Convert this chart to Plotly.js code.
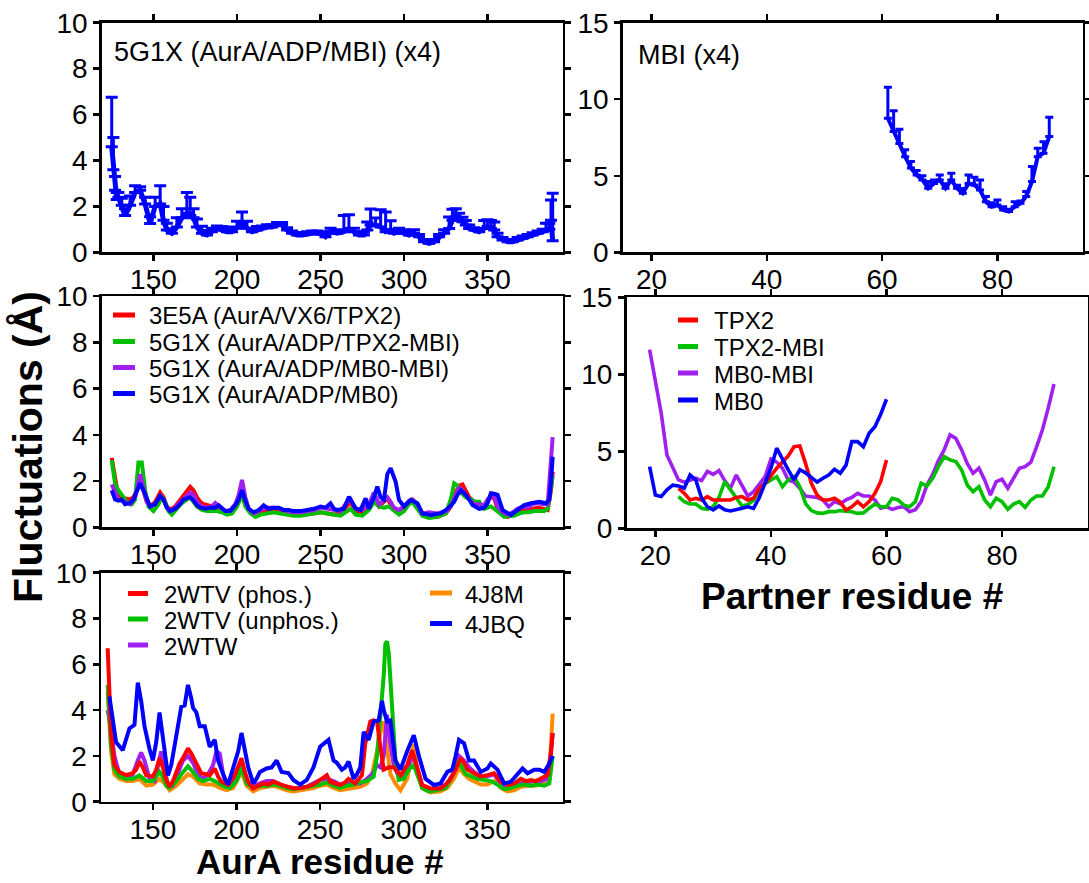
<!DOCTYPE html>
<html>
<head>
<meta charset="utf-8">
<script src="https://cdn.plot.ly/plotly-3.0.1.min.js"></script>
<style>html,body{margin:0;padding:0;background:#fff;}#chart{width:1089px;height:883px;}</style>
</head>
<body>
<div id="chart"></div>
<script>
// ---------- Panel 1: 5G1X (AurA/ADP/MBI) (x4), mean + upper error ----------
const p1Res = [125,126,127,128,129,131,133,136,139,142,145,148,151,154,156,158,161,164,167,170,172,174,176,179,182,185,188,191,194,197,200,203,206,209,212,215,218,221,224,227,230,233,236,239,242,245,248,251,253,256,260,264,267,270,273,276,278,280,283,286,289,292,294,297,300,303,306,309,312,315,318,321,324,327,329,331,333,335,337,339,342,345,348,350,352,354,356,359,362,365,368,371,374,377,380,383,385,387,388,389];
const p1Mean = [4.6,3.6,2.7,2.3,2.4,2.05,1.6,2.05,2.6,2.7,2.1,1.25,2.0,2.1,1.4,0.97,0.83,1.1,1.5,1.7,1.6,1.5,1.1,0.83,0.75,0.9,1.05,0.97,0.9,0.9,1.05,1.26,1.05,0.9,0.97,1.05,1.1,1.1,1.2,1.2,0.97,0.83,0.75,0.75,0.8,0.83,0.83,0.8,0.68,0.9,0.83,0.9,1.04,0.9,0.75,0.75,0.97,1.19,1.19,1.1,0.9,0.97,0.83,0.9,0.83,0.75,0.83,0.68,0.46,0.39,0.46,0.68,0.83,1.04,1.4,1.55,1.4,1.33,1.19,1.04,0.97,0.9,1.04,1.12,1.04,0.97,0.68,0.54,0.46,0.46,0.54,0.61,0.68,0.75,0.83,0.9,0.97,1.0,1.4,0.5];
const p1Err = [2.15,1.4,0.6,0.3,0.2,0.3,0.3,0.4,0.3,0.15,0.3,0.3,0.4,0.8,0.6,0.3,0.2,0.4,0.4,0.9,0.8,0.4,0.35,0.3,0.2,0.15,0.1,0.15,0.15,0.2,0.3,0.5,0.3,0.15,0.15,0.1,0.1,0.1,0.1,0.1,0.1,0.1,0.1,0.1,0.1,0.1,0.1,0.1,0.15,0.15,0.15,0.7,0.6,0.15,0.15,0.15,0.35,0.7,0.3,0.75,0.85,0.4,0.15,0.15,0.15,0.15,0.15,0.1,0.1,0.1,0.1,0.1,0.15,0.5,0.47,0.35,0.3,0.2,0.2,0.15,0.1,0.1,0.35,0.3,0.35,0.35,0.15,0.1,0.1,0.1,0.1,0.1,0.1,0.1,0.1,0.1,0.3,0.26,0.88,2.07];

// ---------- Panel 2: MBI (x4) ----------
const p2Res = [61,62,63,64,65,66,67,68,69,70,71,72,73,74,75,76,77,78,79,80,81,82,83,84,85,86,87,88,89];
const p2Mean = [8.76,7.9,7.1,6.25,5.5,5.05,4.73,4.18,4.5,4.73,4.18,4.73,4.18,3.86,4.5,4.4,4.07,3.3,2.98,3.09,2.77,2.66,2.98,3.2,3.64,4.62,6.25,6.47,7.56];
const p2Err = [2.02,1.34,0.94,0.45,0.43,0.29,0.27,0.44,0.23,0.32,0.3,0.43,0.2,0.3,0.55,0.5,0.66,0.34,0.25,0.33,0.2,0.15,0.33,0.15,0.33,0.98,0.55,0.76,1.26];

// ---------- Panel 3: AurA, 5G1X / 3E5A ----------
const p3NameRed = "3E5A (AurA/VX6/TPX2)";
const p3ResRed = [125,127,129,133,136,138,140,142,144,146,148,151,154,156,158,160,163,166,168,170,172,174,176,178,180,183,186,189,192,195,198,201,203,205,207,210,214,218,222,226,230,234,238,242,246,250,254,258,262,266,268,271,275,279,282,285,288,290,292,294,297,300,303,305,308,311,315,320,325,328,331,333,335,337,339,342,345,348,350,352,354,356,359,362,365,368,371,374,377,380,383,386,388,389];
const p3ValRed = [3.0,2.2,1.3,1.25,1.2,1.3,1.6,2.05,1.6,1.1,0.9,1.1,1.5,1.3,0.9,0.75,0.9,1.2,1.4,1.55,1.75,1.6,1.3,1.1,1.0,0.95,0.9,0.8,0.7,0.65,0.8,1.1,1.5,1.1,0.75,0.55,0.65,0.7,0.75,0.7,0.6,0.55,0.55,0.6,0.6,0.65,0.6,0.55,0.6,0.9,1.1,0.7,0.65,0.8,1.2,0.9,1.1,1.25,1.0,0.75,0.6,0.8,1.1,1.2,1.0,0.55,0.45,0.45,0.6,0.9,1.5,1.8,1.85,1.6,1.3,1.1,1.0,0.95,1.1,1.3,1.25,0.8,0.6,0.45,0.55,0.65,0.75,0.7,0.8,0.85,0.8,0.75,1.6,2.4];

const p3NameGreen = "5G1X (AurA/ADP/TPX2-MBI)";
const p3ResGreen = [125,127,129,131,134,137,139,141,143,145,147,150,153,155,157,159,161,164,167,170,172,174,176,179,182,185,188,191,194,197,200,203,205,208,211,214,218,222,226,230,234,238,242,246,250,254,258,262,266,268,271,275,279,282,285,288,291,294,297,300,303,305,308,311,315,320,325,328,330,332,334,337,340,343,345,348,350,352,354,357,360,363,366,369,372,375,378,381,384,386,388,389];
const p3ValGreen = [2.9,1.9,1.6,1.4,1.1,1.0,1.2,2.8,2.8,1.6,0.9,0.7,1.0,1.3,1.1,0.7,0.55,0.8,1.05,1.2,1.3,1.1,0.9,0.75,0.7,0.7,0.7,0.65,0.55,0.6,0.9,1.4,0.9,0.6,0.45,0.55,0.6,0.65,0.6,0.55,0.5,0.5,0.55,0.6,0.65,0.6,0.55,0.5,0.7,0.8,0.55,0.5,0.75,1.1,0.9,0.85,0.9,0.7,0.55,0.7,1.0,1.1,0.8,0.5,0.4,0.45,0.6,1.2,1.9,1.8,1.5,1.3,1.2,1.1,1.1,0.8,0.85,0.9,0.8,0.6,0.45,0.5,0.5,0.6,0.65,0.65,0.7,0.7,0.7,0.8,1.6,2.2];

const p3NamePurple = "5G1X (AurA/ADP/MB0-MBI)";
const p3ResPurple = [125,127,129,133,136,139,141,142,144,146,148,151,154,156,158,160,163,166,169,172,174,176,179,182,185,187,190,193,196,199,201,203,205,207,210,214,218,222,226,230,234,238,242,246,250,254,258,262,266,268,271,275,279,282,285,288,290,292,294,297,300,303,305,308,311,315,320,325,328,331,333,335,337,339,342,345,348,350,352,354,356,359,362,365,368,371,374,377,380,383,386,387,388,389];
const p3ValPurple = [1.85,1.5,1.2,1.1,1.0,1.3,2.1,2.3,1.7,1.1,0.9,1.0,1.35,1.2,0.85,0.7,0.85,1.1,1.3,1.5,1.4,1.1,0.9,0.85,0.9,1.05,0.85,0.7,0.75,1.0,1.4,2.05,1.3,0.8,0.6,0.75,0.85,0.85,0.8,0.7,0.65,0.65,0.7,0.75,0.85,0.8,0.75,0.7,1.1,1.2,0.8,0.75,1.0,1.5,1.0,1.2,1.3,1.1,0.85,0.75,0.9,1.15,1.2,1.0,0.6,0.65,0.6,0.7,0.9,1.4,1.7,1.6,1.4,1.2,1.0,1.0,0.95,1.2,1.35,1.3,0.9,0.65,0.55,0.65,0.8,0.9,0.85,1.0,1.05,1.0,1.0,2.0,3.2,3.9];

const p3NameBlue = "5G1X (AurA/ADP/MB0)";
const p3ResBlue = [125,127,129,131,133,136,138,140,142,144,146,148,151,154,156,158,160,163,166,168,170,172,174,176,178,181,184,187,189,191,193,196,199,201,203,205,207,210,213,216,219,222,225,228,231,234,238,242,246,250,253,256,258,260,264,267,269,271,274,277,279,282,284,286,288,290,292,294,295,297,300,304,306,308,311,316,322,326,330,332,334,337,339,341,345,348,350,352,354,356,359,362,364,368,372,376,381,385,387,388,389];
const p3ValBlue = [1.6,1.2,1.15,1.2,1.0,1.05,1.2,1.6,1.9,1.6,1.2,0.9,1.0,1.35,1.2,0.85,0.7,0.8,1.0,1.2,1.25,1.3,1.15,0.95,0.85,0.8,0.85,0.85,0.95,0.8,0.7,0.7,0.95,1.2,1.6,1.15,0.8,0.65,0.75,0.95,0.8,0.85,0.85,0.75,0.75,0.7,0.7,0.75,0.8,0.9,0.85,1.04,0.8,0.75,0.8,1.32,1.1,0.82,0.75,1.25,0.8,1.3,1.76,1.3,1.2,2.3,2.55,2.2,1.97,1.18,0.9,1.18,1.1,1.04,0.6,0.53,0.6,0.8,1.1,1.4,1.6,1.4,1.2,0.96,0.8,0.85,1.04,1.47,1.45,1.4,0.75,0.6,0.53,0.75,0.96,1.04,1.1,1.04,1.2,2.0,3.05];

// ---------- Panel 4: partner residues ----------
const p4NameRed = "TPX2";
const p4ResRed = [24,25,26,27,28,29,30,31,32,33,34,35,36,37,38,39,40,41,42,43,44,45,46,47,48,49,50,51,52,53,54,55,56,57,58,59,60];
const p4ValRed = [2.6,2.27,1.84,1.95,1.84,2.06,1.84,1.84,1.84,1.84,2.0,2.06,1.84,1.95,2.6,2.92,3.4,3.9,4.3,4.7,5.3,5.35,4.2,2.92,2.16,1.84,1.84,1.95,1.7,1.19,1.4,1.73,1.4,1.73,2.27,3.03,4.44];

const p4NameGreen = "TPX2-MBI";
const p4ResGreen = [24,25,26,27,28,29,30,31,32,33,34,35,36,37,38,39,40,41,42,43,44,45,46,47,48,49,50,51,52,53,54,55,56,57,58,59,60,61,62,63,64,65,66,67,68,69,70,71,72,73,74,75,76,77,78,79,80,81,82,83,84,85,86,87,88,89];
const p4ValGreen = [2.06,1.73,1.58,1.58,1.3,1.23,1.4,2.0,3.03,2.5,1.95,1.45,1.55,1.8,2.5,2.9,3.14,3.35,2.7,3.14,3.35,2.7,1.6,1.15,1.0,0.97,1.08,1.08,1.15,1.1,1.08,0.97,1.0,1.3,1.58,1.4,1.4,1.95,1.84,1.5,1.4,1.73,2.92,2.75,3.25,4.0,4.65,4.44,4.33,3.8,2.8,2.38,2.7,1.84,1.4,1.95,1.73,1.23,1.58,1.73,1.36,1.84,2.1,2.1,2.7,4.0];

const p4NamePurple = "MB0-MBI";
const p4ResPurple = [19,20,21,22,23,24,25,26,27,28,29,30,31,32,33,34,35,36,37,38,39,40,41,42,43,44,45,46,47,48,49,50,51,52,53,54,55,56,57,58,59,60,61,62,63,64,65,66,67,68,69,70,71,72,73,74,75,76,77,78,79,80,81,82,83,84,85,86,87,88,89];
const p4ValPurple = [11.6,9.6,7.5,4.76,4.0,3.14,3.0,3.1,3.25,3.1,3.7,3.5,3.75,3.1,2.6,3.46,2.8,2.1,2.38,2.9,3.35,4.5,4.3,3.9,3.14,3.0,2.6,2.1,2.06,2.0,1.84,1.4,1.73,1.6,1.84,2.0,2.27,2.1,2.1,1.84,1.3,1.4,1.23,1.35,1.4,1.08,1.2,1.73,2.8,3.5,4.4,5.1,6.06,5.84,5.1,4.2,3.57,3.9,3.14,2.16,3.03,3.18,2.6,3.2,3.9,4.0,4.3,5.3,6.4,7.8,9.37];

const p4NameBlue = "MB0";
const p4ResBlue = [19,20,21,22,23,24,25,26,27,28,29,30,31,32,33,34,35,36,37,38,39,40,41,42,43,44,45,46,47,48,49,50,51,52,53,54,55,56,57,58,59,60];
const p4ValBlue = [4.0,2.16,2.06,2.5,2.8,2.75,2.6,3.46,3.14,1.95,1.4,1.2,1.45,1.2,1.13,1.2,1.3,1.4,1.3,2.0,2.9,3.9,5.2,4.44,3.8,3.14,3.8,3.6,3.3,3.0,3.25,3.46,3.83,3.57,4.1,5.63,5.63,5.3,6.17,6.6,7.4,8.38];

// ---------- Panel 5: AurA, other structures ----------
const p5NameRed = "2WTV (phos.)";
const p5ResRed = [123,124,125,127,130,134,138,140,142,144,146,150,152,154,156,158,160,162,164,166,168,171,173,175,177,179,182,184,187,189,191,195,199,201,203,205,207,210,213,216,219,222,225,227,231,234,238,242,246,250,254,256,259,262,265,267,271,275,277,280,282,284,286,288,291,294,298,302,305,308,311,316,322,325,328,331,334,336,338,342,346,350,354,358,362,366,370,373,376,379,382,386,388,389];
const p5ValRed = [6.7,4.6,3.0,1.6,1.3,1.16,1.24,1.4,1.75,1.5,1.16,1.1,1.4,1.9,1.5,0.95,0.65,0.9,1.3,1.67,1.9,2.33,2.1,1.8,1.5,1.24,1.2,1.16,1.45,1.1,0.87,0.73,1.16,1.5,1.9,1.3,0.87,0.58,0.7,0.8,0.75,0.87,0.8,0.73,0.65,0.58,0.6,0.65,0.75,0.95,1.16,0.87,0.8,0.73,0.85,1.0,0.8,1.16,2.55,3.5,3.55,3.5,2.4,1.4,1.5,1.5,1.16,1.6,2.25,1.5,0.73,0.58,0.58,0.75,1.0,1.4,1.9,1.7,1.4,1.24,1.1,1.16,1.24,0.87,0.73,0.8,1.0,0.9,0.95,0.9,1.0,1.16,2.1,3.0];

const p5NameGreen = "2WTV (unphos.)";
const p5ResGreen = [123,125,127,130,134,138,142,146,150,154,156,158,160,164,167,171,174,177,180,184,187,190,193,196,200,203,206,210,214,218,222,226,230,234,238,242,246,250,254,258,262,266,270,274,278,282,284,286,288,289,290,291,293,295,297,300,303,306,308,311,315,320,325,329,332,334,337,340,344,348,352,356,360,364,368,372,376,380,384,387,389];
const p5ValGreen = [5.1,2.5,1.4,1.1,1.0,1.0,1.15,0.9,0.9,1.3,1.1,0.7,0.6,0.9,1.2,1.55,1.3,1.0,0.9,1.0,0.9,0.75,0.65,0.6,0.9,1.5,0.8,0.6,0.7,0.7,0.75,0.7,0.6,0.55,0.6,0.65,0.7,0.75,0.85,0.7,0.6,0.7,0.75,0.85,0.9,1.1,2.0,3.6,5.5,6.9,7.0,6.5,4.3,1.8,0.95,1.0,1.4,1.6,1.2,0.6,0.45,0.5,0.6,1.1,1.8,1.6,1.2,1.1,1.0,0.95,0.9,0.75,0.55,0.6,0.7,0.75,0.7,0.75,0.7,0.8,2.0];

const p5NamePurple = "2WTW";
const p5ResPurple = [123,125,127,130,134,138,141,143,145,148,151,153,155,157,159,162,165,168,171,174,177,180,183,186,188,190,192,195,199,203,206,210,214,218,222,226,230,234,238,242,246,250,254,258,262,266,270,274,278,281,284,286,288,290,292,294,297,300,303,305,308,311,316,322,326,330,333,336,339,342,346,350,354,358,362,366,370,374,378,382,386,388,389];
const p5ValPurple = [4.0,3.2,2.0,1.2,1.0,1.2,1.8,2.15,1.8,1.0,0.9,1.6,2.2,1.5,0.7,0.7,1.3,1.8,2.0,1.7,1.2,1.0,1.2,1.6,2.2,2.1,1.2,0.7,0.9,1.6,0.9,0.7,0.8,0.9,0.9,0.75,0.65,0.6,0.6,0.65,0.8,0.95,1.0,0.9,0.75,0.8,0.8,0.8,1.0,1.2,1.6,1.5,2.0,3.8,2.5,1.6,1.1,1.2,1.6,2.0,1.5,0.7,0.55,0.6,0.8,1.3,2.0,1.8,1.5,1.3,1.1,1.1,1.2,0.8,0.65,0.7,0.8,0.85,0.9,0.9,1.0,2.2,3.0];

const p5NameOrange = "4J8M";
const p5ResOrange = [123,125,127,130,134,138,142,146,150,154,157,160,164,168,171,174,178,182,186,190,194,198,203,206,210,214,218,222,226,230,234,238,242,246,250,254,258,262,266,270,274,278,281,284,286,288,290,292,295,298,302,306,308,311,316,322,326,330,333,336,339,342,346,350,354,358,362,366,370,374,378,382,386,388,389];
const p5ValOrange = [4.8,2.2,1.2,1.0,0.9,0.9,1.0,0.7,0.75,1.0,0.8,0.5,0.7,1.0,1.2,1.1,0.8,0.75,0.75,0.6,0.5,0.6,1.3,0.7,0.45,0.6,0.65,0.7,0.6,0.5,0.45,0.5,0.55,0.6,0.7,0.75,0.6,0.5,0.55,0.6,0.65,0.8,1.2,2.2,3.0,3.5,2.2,1.2,0.8,0.5,1.0,2.5,1.4,0.6,0.4,0.45,0.6,1.0,1.5,1.2,1.0,0.9,0.75,0.75,0.9,0.6,0.45,0.5,0.65,0.7,0.7,0.75,0.8,2.5,3.85];

const p5NameBlue = "4JBQ";
const p5ResBlue = [124,128,132,136,139,141,143,145,148,150,152,154,156,159,161,163,165,167,169,171,173,174,176,178,181,184,187,189,191,193,195,197,199,201,203,205,207,210,212,214,216,218,221,224,227,231,234,238,242,246,250,253,255,258,260,263,265,267,270,272,274,276,279,282,285,287,288,290,292,295,298,302,306,309,313,318,322,326,329,331,333,336,339,342,346,350,352,356,360,364,368,371,374,378,381,384,387,389];
const p5ValBlue = [4.6,2.6,2.25,3.2,3.35,5.2,4.4,3.3,2.3,1.8,2.6,3.9,2.8,1.15,1.6,2.5,3.4,4.15,4.2,5.1,4.5,4.1,3.9,3.3,3.3,2.4,2.7,1.8,1.4,1.0,0.75,1.2,1.65,2.2,3.0,2.3,1.5,0.8,1.0,1.3,1.4,1.45,1.5,1.8,1.3,1.25,0.95,0.75,0.95,1.5,2.4,2.6,2.7,1.8,1.7,1.4,1.5,1.75,1.0,1.2,1.5,3.05,2.7,3.5,3.55,4.4,4.0,3.5,3.55,1.8,1.4,2.2,2.9,2.0,1.0,0.73,0.8,1.3,1.4,2.0,2.7,2.55,1.8,1.8,1.3,1.45,1.67,1.4,0.8,0.87,1.24,1.45,1.24,1.4,1.4,1.3,1.67,2.0];

// ---------- Text ----------
const panel1Label = "5G1X (AurA/ADP/MBI) (x4)";
const panel2Label = "MBI (x4)";
const xTitleLeft = "AurA residue #";
const xTitleRight = "Partner residue #";
const yTitle = "Fluctuations (Å)";

// ---------- Styling ----------
const RED = "#ff0000", GREEN = "#00c000", PURPLE = "#a020f0", BLUE = "#0000ff", ORANGE = "#ff8c00";
const FONT = "Liberation Sans, Arial, Helvetica, sans-serif";
const W = 1089, H = 883;
const fx = px => px / W;
const fy = py => 1 - py / H;

function line(x, y, color, xa, ya, width) {
  return {
    type: "scatter", mode: "lines", x: x, y: y,
    xaxis: xa, yaxis: ya, showlegend: false,
    line: {color: color, width: width || 4, shape: "linear"},
    hoverinfo: "skip"
  };
}

const traces = [
  {type: "scatter", mode: "lines", x: p1Res, y: p1Mean, xaxis: "x", yaxis: "y", showlegend: false,
   line: {color: BLUE, width: 5},
   error_y: {type: "data", symmetric: false, array: p1Err, arrayminus: p1Err.map(() => 0), color: BLUE, thickness: 3, width: 6}},
  {type: "scatter", mode: "lines", x: p2Res, y: p2Mean, xaxis: "x2", yaxis: "y2", showlegend: false,
   line: {color: BLUE, width: 4},
   error_y: {type: "data", symmetric: false, array: p2Err, arrayminus: p2Err.map(() => 0), color: BLUE, thickness: 3, width: 4}},

  line(p3ResRed, p3ValRed, RED, "x3", "y3"),
  line(p3ResGreen, p3ValGreen, GREEN, "x3", "y3"),
  line(p3ResPurple, p3ValPurple, PURPLE, "x3", "y3"),
  line(p3ResBlue, p3ValBlue, BLUE, "x3", "y3"),

  line(p4ResPurple, p4ValPurple, PURPLE, "x4", "y4", 3.6),
  line(p4ResGreen, p4ValGreen, GREEN, "x4", "y4", 3.6),
  line(p4ResRed, p4ValRed, RED, "x4", "y4", 3.6),
  line(p4ResBlue, p4ValBlue, BLUE, "x4", "y4", 3.6),

  line(p5ResOrange, p5ValOrange, ORANGE, "x5", "y5"),
  line(p5ResPurple, p5ValPurple, PURPLE, "x5", "y5"),
  line(p5ResGreen, p5ValGreen, GREEN, "x5", "y5"),
  line(p5ResRed, p5ValRed, RED, "x5", "y5"),
  line(p5ResBlue, p5ValBlue, BLUE, "x5", "y5")
];

function axis(extra) {
  return Object.assign({
    showline: true, linecolor: "#000", linewidth: 2.5, mirror: "ticks",
    ticks: "outside", ticklen: 6, tickwidth: 2.5, tickcolor: "#000",
    showgrid: false, zeroline: false, fixedrange: true,
    tickfont: {family: FONT, size: 28, color: "#000"}
  }, extra);
}
function xaxisOpts(extra) {
  return axis(Object.assign({ticklabelstandoff: -5}, extra));
}

const leftX = [fx(101.7), fx(562.7)];
const rightX2 = [fx(622.7), fx(1082.7)];
const rightX4 = [fx(626.5), fx(1087.5)];

// ---------- Hand-drawn legends (swatch + label) ----------
const legendSpecs = [
  // [name, color, swatchLeftPx, swatchRightPx, textLeftPx, rowCenterPx]
  [p3NameRed, RED, 113, 135, 147, 315],
  [p3NameGreen, GREEN, 113, 135, 147, 341.5],
  [p3NamePurple, PURPLE, 113, 135, 147, 367.5],
  [p3NameBlue, BLUE, 113, 135, 147, 393.5],
  [p4NameRed, RED, 678, 698, 711.5, 320],
  [p4NameGreen, GREEN, 678, 698, 711.5, 346.5],
  [p4NamePurple, PURPLE, 678, 698, 711.5, 373],
  [p4NameBlue, BLUE, 678, 698, 711.5, 400],
  [p5NameRed, RED, 128, 148, 161.5, 593.5],
  [p5NameGreen, GREEN, 128, 148, 161.5, 619],
  [p5NamePurple, PURPLE, 128, 148, 161.5, 645],
  [p5NameOrange, ORANGE, 430, 452, 463, 593],
  [p5NameBlue, BLUE, 430, 452, 463, 623.5]
];
const shapes = legendSpecs.map(s => ({
  type: "line", xref: "paper", yref: "paper",
  x0: fx(s[2]), x1: fx(s[3]), y0: fy(s[5]), y1: fy(s[5]),
  line: {color: s[1], width: 5}
}));
const legendAnn = legendSpecs.map(s => ({
  text: s[0], xref: "paper", yref: "paper", x: fx(s[4]), y: fy(s[5] + 1),
  xanchor: "left", yanchor: "middle", showarrow: false,
  font: {family: FONT, size: 24, color: "#000"}
}));

const layout = {
  width: W, height: H,
  margin: {l: 0, r: 0, t: 0, b: 0},
  paper_bgcolor: "#fff", plot_bgcolor: "#fff",
  font: {family: FONT, color: "#000"},
  showlegend: false,
  xaxis:  xaxisOpts({domain: leftX, range: [119, 395], tickvals: [150, 200, 250, 300, 350], anchor: "y"}),
  yaxis:  axis({domain: [fy(252.3), fy(22.7)], range: [0, 10], dtick: 2, anchor: "x"}),
  xaxis2: xaxisOpts({domain: rightX2, range: [15, 94.8], tickvals: [20, 40, 60, 80], anchor: "y2"}),
  yaxis2: axis({domain: [fy(252.3), fy(22.7)], range: [0, 15], dtick: 5, anchor: "x2"}),
  xaxis3: xaxisOpts({domain: leftX, range: [119, 395], tickvals: [150, 200, 250, 300, 350], anchor: "y3"}),
  yaxis3: axis({domain: [fy(527.3), fy(296)], range: [0, 10], dtick: 2, anchor: "x3"}),
  xaxis4: xaxisOpts({domain: rightX4, range: [15, 94.8], tickvals: [20, 40, 60, 80], anchor: "y4"}),
  yaxis4: axis({domain: [fy(528.3), fy(297.3)], range: [0, 15], dtick: 5, anchor: "x4"}),
  xaxis5: xaxisOpts({domain: [fx(101), fx(562.7)], range: [119, 395], tickvals: [150, 200, 250, 300, 350], anchor: "y5"}),
  yaxis5: axis({domain: [fy(801.7), fy(572.7)], range: [0, 10], dtick: 2, anchor: "x5"}),
  shapes: shapes,
  annotations: legendAnn.concat([
    {text: panel1Label, xref: "paper", yref: "paper", x: fx(112), y: fy(52), xanchor: "left", yanchor: "middle",
     showarrow: false, font: {family: FONT, size: 27, color: "#000"}},
    {text: panel2Label, xref: "paper", yref: "paper", x: fx(636), y: fy(55), xanchor: "left", yanchor: "middle",
     showarrow: false, font: {family: FONT, size: 27, color: "#000"}},
    {text: xTitleLeft, xref: "paper", yref: "paper", x: fx(320), y: fy(861), xanchor: "center", yanchor: "middle",
     showarrow: false, font: {family: FONT, size: 35, color: "#000", weight: "bold"}},
    {text: xTitleRight, xref: "paper", yref: "paper", x: fx(852), y: fy(596), xanchor: "center", yanchor: "middle",
     showarrow: false, font: {family: FONT, size: 37, color: "#000", weight: "bold"}},
    {text: yTitle, xref: "paper", yref: "paper", x: fx(28), y: fy(447), xanchor: "center", yanchor: "middle",
     textangle: -90, showarrow: false, font: {family: FONT, size: 41, color: "#000", weight: "bold"}}
  ])
};

Plotly.newPlot("chart", traces, layout, {staticPlot: true, displayModeBar: false});
</script>
</body>
</html>
